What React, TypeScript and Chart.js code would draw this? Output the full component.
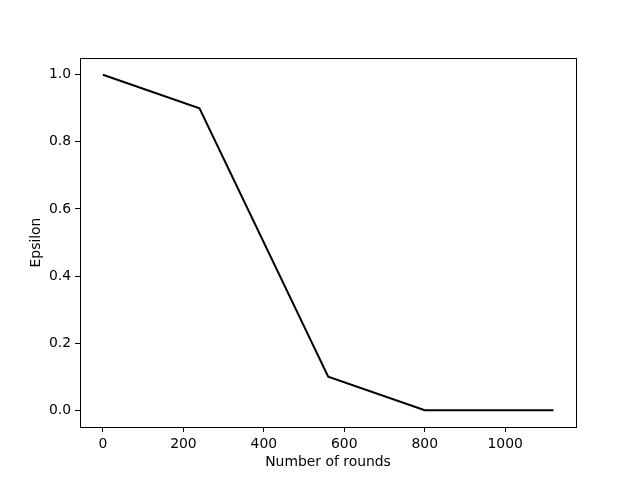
import React, { useEffect, useRef } from "react";
import { Chart, registerables } from "chart.js";

Chart.register(...registerables);

const rounds = [0, 240, 560, 800, 1120];
const epsilon = [1.0, 0.9, 0.1, 0.0, 0.0];
const xTicks = [0, 200, 400, 600, 800, 1000];
const yTicks = [0.0, 0.2, 0.4, 0.6, 0.8, 1.0];

const FONT = "'DejaVu Sans', sans-serif";

const framePlugin = {
  id: "frame",
  afterDraw(chart: any) {
    const { ctx, chartArea } = chart;
    ctx.save();
    ctx.strokeStyle = "#000";
    ctx.lineWidth = 1;
    ctx.strokeRect(
      Math.round(chartArea.left) + 0.5,
      Math.round(chartArea.top) + 0.5,
      Math.round(chartArea.right - chartArea.left),
      Math.round(chartArea.bottom - chartArea.top)
    );
    ctx.restore();
  },
};

export default function App() {
  const ref = useRef<HTMLCanvasElement>(null);
  useEffect(() => {
    if (!ref.current) return;
    const xMin = -57;
    const xMax = 1176;
    const chart = new Chart(ref.current, {
      type: "line",
      data: {
        datasets: [
          {
            data: rounds.map((r, i) => ({ x: r, y: epsilon[i] })),
            borderColor: "#000",
            borderWidth: 2,
            pointRadius: 0,
            tension: 0,
            fill: false,
          },
        ],
      },
      options: {
        animation: false,
        responsive: false,
        maintainAspectRatio: false,
        layout: { padding: { top: 58, right: 64, left: 0, bottom: 0 } },
        plugins: { legend: { display: false }, tooltip: { enabled: false } },
        scales: {
          x: {
            type: "linear",
            min: xMin,
            max: xMax,
            afterFit: (s: any) => {
              s.height = 53;
            },
            afterBuildTicks: (s: any) => {
              s.ticks = xTicks.map((v) => ({ value: v }));
            },
            ticks: {
              color: "#000",
              font: { family: FONT, size: 13.9 },
              padding: 4,
              maxRotation: 0,
              callback: (v: any) => String(v),
            },
            grid: {
              drawOnChartArea: false,
              drawTicks: true,
              tickLength: 5,
              color: "#000",
            },
            border: { display: true, color: "#000", width: 1 },
            title: {
              display: true,
              text: "Number of rounds",
              color: "#000",
              font: { family: FONT, size: 13.9 },
              padding: { top: 0, bottom: 9 },
            },
          },
          y: {
            type: "linear",
            min: -0.05,
            max: 1.05,
            afterFit: (s: any) => {
              s.width = 80;
            },
            afterBuildTicks: (s: any) => {
              s.ticks = yTicks.map((v) => ({ value: v }));
            },
            ticks: {
              color: "#000",
              font: { family: FONT, size: 13.9 },
              padding: 4,
              callback: (v: any) => Number(v).toFixed(1),
            },
            grid: {
              drawOnChartArea: false,
              drawTicks: true,
              tickLength: 5,
              color: "#000",
            },
            border: { display: true, color: "#000", width: 1 },
            title: {
              display: true,
              text: "Epsilon",
              color: "#000",
              font: { family: FONT, size: 13.9 },
              padding: { top: 28, bottom: 0 },
            },
          },
        },
      },
      plugins: [framePlugin],
    });
    return () => chart.destroy();
  }, []);
  return (
    <div style={{ position: "fixed", left: 0, top: 0, width: 640, height: 480, background: "#fff" }}>
      <canvas ref={ref} width={640} height={480} style={{ width: 640, height: 480 }} />
    </div>
  );
}
